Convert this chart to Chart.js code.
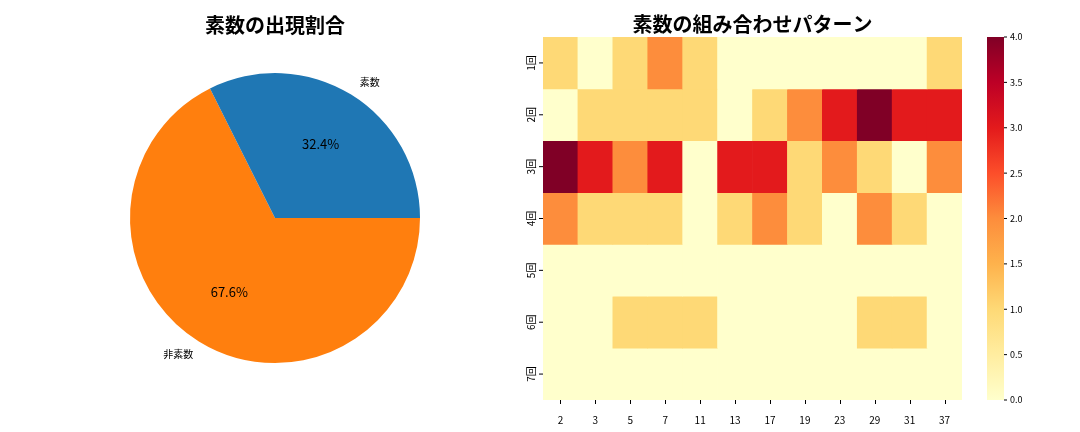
<!DOCTYPE html>
<html>
<head>
<meta charset="utf-8">
<script src="https://cdn.jsdelivr.net/npm/chart.js@4/dist/chart.umd.min.js"></script>
<style>
body { margin: 0; background: #fff; }
#left { position: absolute; left: 0; top: 0; width: 540px; height: 432px; }
#right { position: absolute; left: 500px; top: 0; width: 580px; height: 432px; }
</style>
</head>
<body>
<div id="left"><canvas id="pieChart" width="540" height="432"></canvas></div>
<div id="right"><canvas id="heatChart" width="580" height="432"></canvas></div>
<script>
const FONT = "'Noto Sans CJK JP', 'DejaVu Sans', sans-serif";

// pie data
const pieLabels = ["非素数", "素数"];
const pieValues = [67.6, 32.4];
const pieColors = ["#ff7f0e", "#1f77b4"];

// heatmap data
const primes = ["2", "3", "5", "7", "11", "13", "17", "19", "23", "29", "31", "37"];
const rowLabels = ["1回", "2回", "3回", "4回", "5回", "6回", "7回"];
const counts = [
    [1, 0, 1, 2, 1, 0, 0, 0, 0, 0, 0, 1],
    [0, 1, 1, 1, 1, 0, 1, 2, 3, 4, 3, 3],
    [4, 3, 2, 3, 0, 3, 3, 1, 2, 1, 0, 2],
    [2, 1, 1, 1, 0, 1, 2, 1, 0, 2, 1, 0],
    [0, 0, 0, 0, 0, 0, 0, 0, 0, 0, 0, 0],
    [0, 0, 1, 1, 1, 0, 0, 0, 0, 1, 1, 0],
    [0, 0, 0, 0, 0, 0, 0, 0, 0, 0, 0, 0]
];
const colorbarTicks = ["0.0", "0.5", "1.0", "1.5", "2.0", "2.5", "3.0", "3.5", "4.0"];
const vmax = 4;

const ylorrd = ["#ffffcc", "#ffeda0", "#fed976", "#feb24c", "#fd8d3c", "#fc4e2a", "#e31a1c", "#bd0026", "#800026"];

function hexToRgb(h) {
    return [parseInt(h.slice(1, 3), 16), parseInt(h.slice(3, 5), 16), parseInt(h.slice(5, 7), 16)];
}

function cmap(t) {
    const pos = Math.max(0, Math.min(1, t)) * (ylorrd.length - 1);
    const i = Math.min(Math.floor(pos), ylorrd.length - 2);
    const f = pos - i;
    const a = hexToRgb(ylorrd[i]), b = hexToRgb(ylorrd[i + 1]);
    const c = a.map((v, k) => Math.round(v + (b[k] - v) * f));
    return "rgb(" + c.join(",") + ")";
}

const pieText = {
    id: "pieText",
    afterDraw(chart) {
        const ctx = chart.ctx;
        const meta = chart.getDatasetMeta(0);
        ctx.save();
        ctx.fillStyle = "#000";
        ctx.textAlign = "center";
        ctx.textBaseline = "middle";
        ctx.font = "bold 20px " + FONT;
        ctx.fillText("素数の出現割合", 275, 25);
        meta.data.forEach((arc, i) => {
            const mid = (arc.startAngle + arc.endAngle) / 2;
            const r = arc.outerRadius;
            ctx.font = "10px " + FONT;
            ctx.fillText(pieLabels[i], arc.x + Math.cos(mid) * r * 1.1 + (Math.cos(mid) > 0 ? 11 : -13), arc.y + Math.sin(mid) * r * 1.1);
            ctx.font = "13px " + FONT;
            ctx.fillText(pieValues[i].toFixed(1) + "%", arc.x + Math.cos(mid) * r * 0.6, arc.y + Math.sin(mid) * r * 0.6);
        });
        ctx.restore();
    }
};

new Chart(document.getElementById("pieChart"), {
    type: "pie",
    data: {
        labels: pieLabels,
        datasets: [{ data: pieValues, backgroundColor: pieColors, borderWidth: 0 }]
    },
    options: {
        responsive: false,
        animation: false,
        rotation: 90,
        layout: { padding: { left: 130, right: 120, top: 73, bottom: 69 } },
        plugins: { legend: { display: false }, tooltip: { enabled: false } }
    },
    plugins: [pieText]
});

const heatExtras = {
    id: "heatExtras",
    afterDraw(chart) {
        const ctx = chart.ctx;
        const area = chart.chartArea;
        const x = chart.scales.x;
        const y = chart.scales.y;
        ctx.save();
        ctx.fillStyle = "#000";
        ctx.strokeStyle = "#000";
        ctx.lineWidth = 1;
        ctx.textAlign = "center";
        ctx.textBaseline = "middle";
        ctx.font = "bold 20px " + FONT;
        ctx.fillText("素数の組み合わせパターン", (area.left + area.right) / 2, 24);
        // x tick marks
        primes.forEach((p, i) => {
            const px = Math.round(x.getPixelForValue(i)) + 0.5;
            ctx.beginPath();
            ctx.moveTo(px, area.bottom);
            ctx.lineTo(px, area.bottom + 4);
            ctx.stroke();
        });
        // y labels
        ctx.font = "10px " + FONT;
        rowLabels.forEach((lab, i) => {
            const py = y.getPixelForValue(i + 0.5);
            ctx.beginPath();
            ctx.moveTo(area.left - 4, py);
            ctx.lineTo(area.left, py);
            ctx.stroke();
            ctx.save();
            ctx.translate(area.left - 12, py);
            ctx.rotate(-Math.PI / 2);
            ctx.fillText(lab, 0, 0);
            ctx.restore();
        });
        // colorbar
        const cx = area.right + 25, cw = 17;
        const grad = ctx.createLinearGradient(0, area.bottom, 0, area.top);
        ylorrd.forEach((c, i) => grad.addColorStop(i / (ylorrd.length - 1), c));
        ctx.fillStyle = grad;
        ctx.fillRect(cx, area.top, cw, area.bottom - area.top);
        ctx.fillStyle = "#000";
        ctx.textAlign = "left";
        ctx.font = "9px " + FONT;
        colorbarTicks.forEach(t => {
            const v = parseFloat(t);
            const py = area.bottom - (v / vmax) * (area.bottom - area.top);
            ctx.beginPath();
            ctx.moveTo(cx + cw, py);
            ctx.lineTo(cx + cw + 3, py);
            ctx.stroke();
            ctx.fillText(t, cx + cw + 6, py);
        });
        ctx.restore();
    }
};

new Chart(document.getElementById("heatChart"), {
    type: "bar",
    data: {
        labels: primes,
        datasets: counts.map((row, i) => ({
            label: rowLabels[i],
            data: row.map(() => 1),
            backgroundColor: row.map(v => cmap(v / vmax)),
            borderWidth: 0,
            barPercentage: 1,
            categoryPercentage: 1
        }))
    },
    options: {
        responsive: false,
        animation: false,
        layout: { padding: { left: 43, right: 118, top: 37, bottom: 0 } },
        plugins: { legend: { display: false }, tooltip: { enabled: false } },
        scales: {
            x: {
                stacked: true,
                grid: { display: false },
                border: { display: false },
                ticks: { color: "#000", font: { family: FONT, size: 10 }, maxRotation: 0, padding: 6 }
            },
            y: {
                stacked: true,
                display: false,
                reverse: true,
                min: 0,
                max: rowLabels.length
            }
        }
    },
    plugins: [heatExtras]
});
</script>
</body>
</html>
